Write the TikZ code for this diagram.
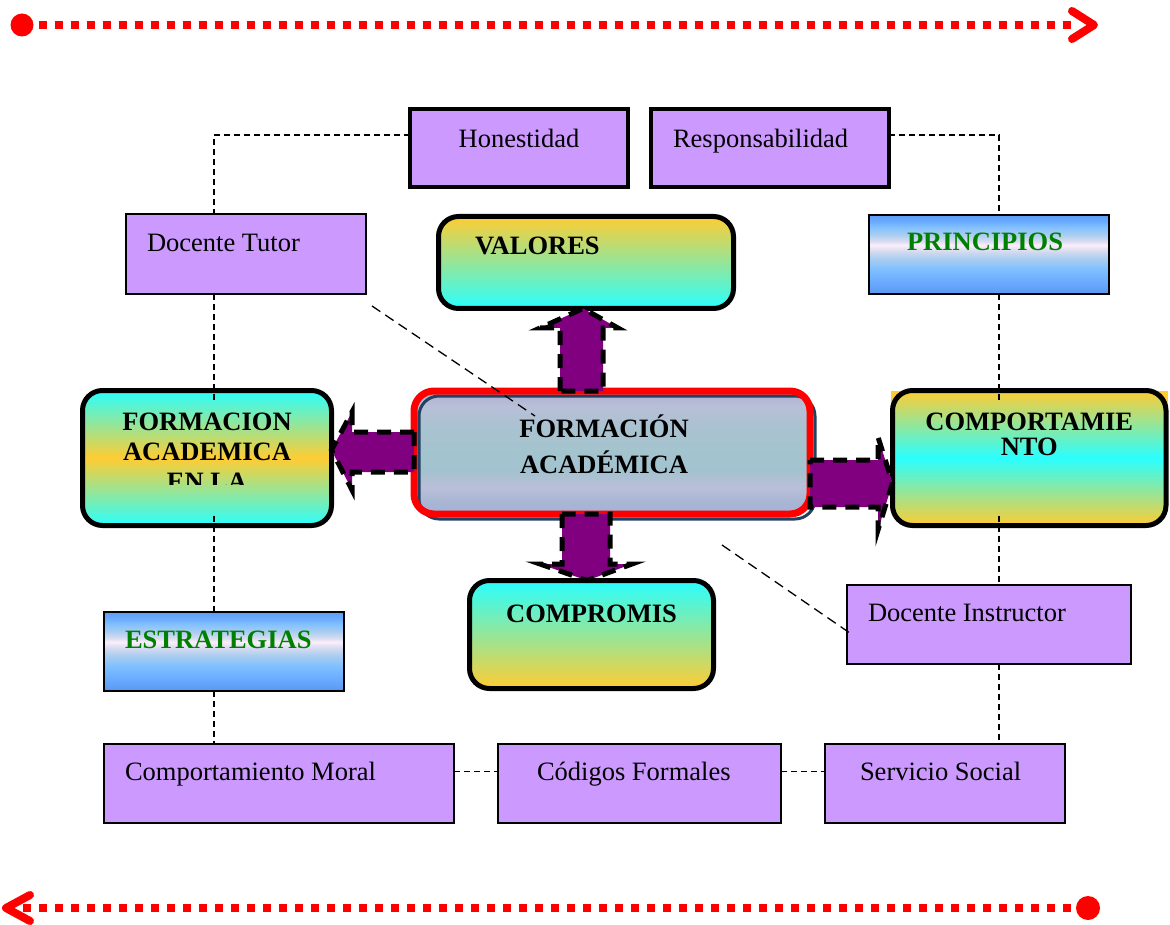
\documentclass[tikz,border=0pt]{standalone}
\usepackage{fontspec}
\setmainfont{Liberation Serif}
\usetikzlibrary{calc}

\definecolor{lav}{RGB}{204,153,255}
\definecolor{plum}{RGB}{128,0,128}
\definecolor{gold}{RGB}{255,204,51}
\definecolor{aqua}{RGB}{42,255,255}
\definecolor{leaf}{RGB}{0,128,0}
\definecolor{navy}{RGB}{36,64,97}
% banded blue fill of the two label boxes
\definecolor{skA}{RGB}{90,152,240}
\definecolor{skB}{RGB}{106,170,255}
\definecolor{skC}{RGB}{128,192,255}
\definecolor{skD}{RGB}{171,205,240}
\definecolor{skE}{RGB}{216,220,240}
\definecolor{skF}{RGB}{252,238,250}
\definecolor{skG}{RGB}{94,157,248}
% slate fill of the central box
\definecolor{slA}{RGB}{163,179,214}
\definecolor{slB}{RGB}{168,182,212}
\definecolor{slC}{RGB}{186,191,217}
\definecolor{slD}{RGB}{163,194,207}
\definecolor{slE}{RGB}{163,196,206}
\definecolor{slF}{RGB}{169,194,208}
\definecolor{slG}{RGB}{185,191,216}
\definecolor{slH}{RGB}{169,176,204}

\pgfdeclareverticalshading{skyband}{100bp}{color(0bp)=(skA); color(25bp)=(skA);
  color(32.5bp)=(skB); color(41bp)=(skC); color(47.5bp)=(skD); color(52.5bp)=(skE);
  color(56bp)=(skF); color(58.5bp)=(skE); color(62.5bp)=(skD); color(67.5bp)=(skC);
  color(71bp)=(skB); color(75bp)=(skG); color(100bp)=(skG)}
\pgfdeclareverticalshading{slateband}{100bp}{color(0bp)=(slA); color(25bp)=(slA);
  color(30bp)=(slB); color(36bp)=(slC); color(42.5bp)=(slD); color(50bp)=(slE);
  color(60bp)=(slF); color(69bp)=(slG); color(75bp)=(slH); color(100bp)=(slH)}

% box body: width, height, space above the first line, text
\newcommand\insidetext[4]{\parbox[c][#2][t]{#1}{\vspace*{#3}\leavevmode\rule{0pt}{26pt}#4}}

\begin{document}
\begin{tikzpicture}[x=1pt, y=-1pt,
  txt/.style={font=\fontsize{26.5}{30}\selectfont},
  flat/.style={txt, draw=black, line width=2pt, fill=lav, anchor=north west, inner sep=0pt, outer sep=0pt},
  heavy/.style={flat, line width=4pt},
  sky/.style={txt, draw=black, line width=2pt, shade, shading=skyband, text=leaf, anchor=north west, inner sep=0pt, outer sep=0pt},
  roundbox/.style={txt, draw=black, line width=5pt, rounded corners=20pt, anchor=north west, inner sep=0pt, outer sep=0pt},
  link/.style={draw=black, line width=1.3pt, dash pattern=on 6pt off 4pt},
  slant/.style={draw=black, line width=1.3pt, dash pattern=on 10pt off 6pt},
  blockarrow/.style={fill=plum, draw=black, line width=5pt, dash pattern=on 14pt off 9pt},
  reddots/.style={red, line width=8pt, dash pattern=on 8pt off 8pt},
  chevron/.style={red, line width=8pt, line cap=round, line join=round}]

\useasboundingbox[fill=white] (0,0) rectangle (1170,925);

% dotted rule along the top
\node[circle, fill=red, minimum size=23pt, inner sep=0pt] (topdot) at (22,25) {};
\coordinate (toptip) at (1094,25);
\draw[reddots] ($(topdot.east)+(5,0)$) -- ($(toptip)+(-23,0)$);
\draw[chevron] ($(toptip)+(-22,-14)$) -- (toptip) -- ($(toptip)+(-22,14)$);

% dotted rule along the bottom
\node[circle, fill=red, minimum size=24pt, inner sep=0pt] (botdot) at (1088,908) {};
\coordinate (bottip) at (6,908);
\draw[reddots] ($(botdot.west)+(-5,0)$) -- ($(bottip)+(17,0)$);
\draw[chevron] ($(bottip)+(24,-13)$) -- (bottip) -- ($(bottip)+(24,13)$);

% plain boxes
\node[heavy] (hon) at (410,109) {\insidetext{218pt}{78pt}{13pt}{\centering Honestidad}};
\node[heavy] (resp) at (651,109) {\insidetext{238pt}{78pt}{13pt}{\hspace*{22pt}Responsabilidad}};
\node[flat] (tutor) at (126,214) {\insidetext{240pt}{80pt}{12pt}{\hspace*{21pt}Docente Tutor}};
\node[sky] (princ) at (869,215) {\insidetext{240pt}{79pt}{10pt}{\hspace*{38pt}\bfseries PRINCIPIOS}};
\node[flat] (inst) at (847,585) {\insidetext{284pt}{79pt}{10pt}{\hspace*{21pt}Docente Instructor}};
\node[sky] (estr) at (104,612) {\insidetext{240pt}{79pt}{10pt}{\hspace*{21pt}\bfseries ESTRATEGIAS}};
\node[flat] (moral) at (104,744) {\insidetext{350pt}{79pt}{10pt}{\hspace*{21pt}Comportamiento Moral}};
\node[flat] (cod) at (498,744) {\insidetext{283pt}{79pt}{10pt}{\hspace*{39pt}Códigos Formales}};
\node[flat] (serv) at (825,744) {\insidetext{240pt}{79pt}{10pt}{\hspace*{35pt}Servicio Social}};

% rounded boxes
\node[roundbox, top color=gold, bottom color=aqua] (val) at (438.5,216.5)
  {\insidetext{295pt}{92pt}{12.5pt}{\hspace*{36.5pt}\bfseries VALORES}};
\node[roundbox, top color=aqua, bottom color=aqua, middle color=gold] (fl) at (82.5,390.5)
  {\insidetext{249pt}{135pt}{0pt}{}};
\begin{scope}
  \clip (fl.north west) rectangle (fl.east |- 0,484);
  \node[txt, anchor=north west, inner sep=0pt, outer sep=0pt] (fltext) at (fl.north west)
    {\insidetext{249pt}{135pt}{13.5pt}{\centering\bfseries FORMACION\\ACADEMICA\\EN LA}};
\end{scope}
\fill[gold] (891,391) rectangle (1168,420);
\node[roundbox, top color=gold, bottom color=gold, middle color=aqua, font=\fontsize{26.5}{25}\selectfont] (cmp) at (892.5,390.5)
  {\insidetext{273.5pt}{135pt}{13.5pt}{\centering\bfseries COMPORTAMIE\\NTO}};
\node[roundbox, top color=aqua, bottom color=gold] (com) at (469.5,580.5)
  {\insidetext{244pt}{108pt}{15.5pt}{\centering\bfseries COMPROMIS}};

% central box: slate fill, navy offset outline, red frame
\node[anchor=north west, inner sep=0pt, outer sep=0pt, rounded corners=20pt, shade, shading=slateband,
      font=\fontsize{26.5}{36}\selectfont] (fa) at (414,391)
  {\insidetext{396pt}{123pt}{20pt}{\centering\bfseries FORMACIÓN\kern16pt\relax\\ACADÉMICA\kern16pt\relax}};
\draw[navy, line width=3pt, rounded corners=20pt] ($(fa.north west)+(5,5)$) rectangle ($(fa.south east)+(5,5)$);
\draw[red, line width=7pt, rounded corners=20pt] (fa.north west) rectangle (fa.south east);

% dashed links
\coordinate (lcol) at (214,0);
\coordinate (rcol) at (999,0);
\draw[link] ($(hon.west)+(0,-13)$) -| (tutor.north -| lcol);
\draw[link] (tutor.south -| lcol) -- ($(fl.north -| lcol)+(0,10)$);
\draw[link] ($(fl.south -| lcol)+(0,-10)$) -- (estr.north -| lcol);
\draw[link] (estr.south -| lcol) -- (moral.north -| lcol);
\draw[link] ($(resp.east)+(0,-13)$) -| (princ.north -| rcol);
\draw[link] (princ.south -| rcol) -- ($(cmp.north -| rcol)+(0,10)$);
\draw[link] ($(cmp.south -| rcol)+(0,-10)$) -- (inst.north -| rcol);
\draw[link] (inst.south -| rcol) -- (serv.north -| rcol);
\draw[link] ($(moral.east)+(0,-12)$) -- ($(cod.west)+(0,-12)$);
\draw[link] ($(cod.east)+(0,-12)$) -- ($(serv.west)+(0,-12)$);
\coordinate (tutortail) at (372,306);
\coordinate (tutorhead) at (535,416);
\draw[slant] (tutortail) -- (tutorhead);
\coordinate (insttail) at (722,545);
\draw[slant] (insttail) -- ($(inst.west)+(5,10)$);

% block arrows out of the central box
\draw[blockarrow] (560,0 |- fa.north) -- (560,328) -- (540,328) -- (583,0 |- val.south)
  -- (618,328) -- (603,328) -- (603,0 |- fa.north) -- cycle;
\draw[blockarrow] (562,0 |- fa.south) -- (562,564) -- (540,564) -- (587,0 |- com.north)
  -- (632,564) -- (610,564) -- (610,0 |- fa.south) -- cycle;
\draw[blockarrow] (fa.west |- 0,432) -- (352,432) -- (352,412) -- (fl.east |- 0,450)
  -- (352,490) -- (352,472) -- (fa.west |- 0,472) -- cycle;
\draw[blockarrow] (fa.east |- 0,460) -- (878,460) -- (878,437) -- (cmp.west |- 0,483)
  -- (878,530) -- (878,507) -- (fa.east |- 0,507) -- cycle;
\end{tikzpicture}
\end{document}
